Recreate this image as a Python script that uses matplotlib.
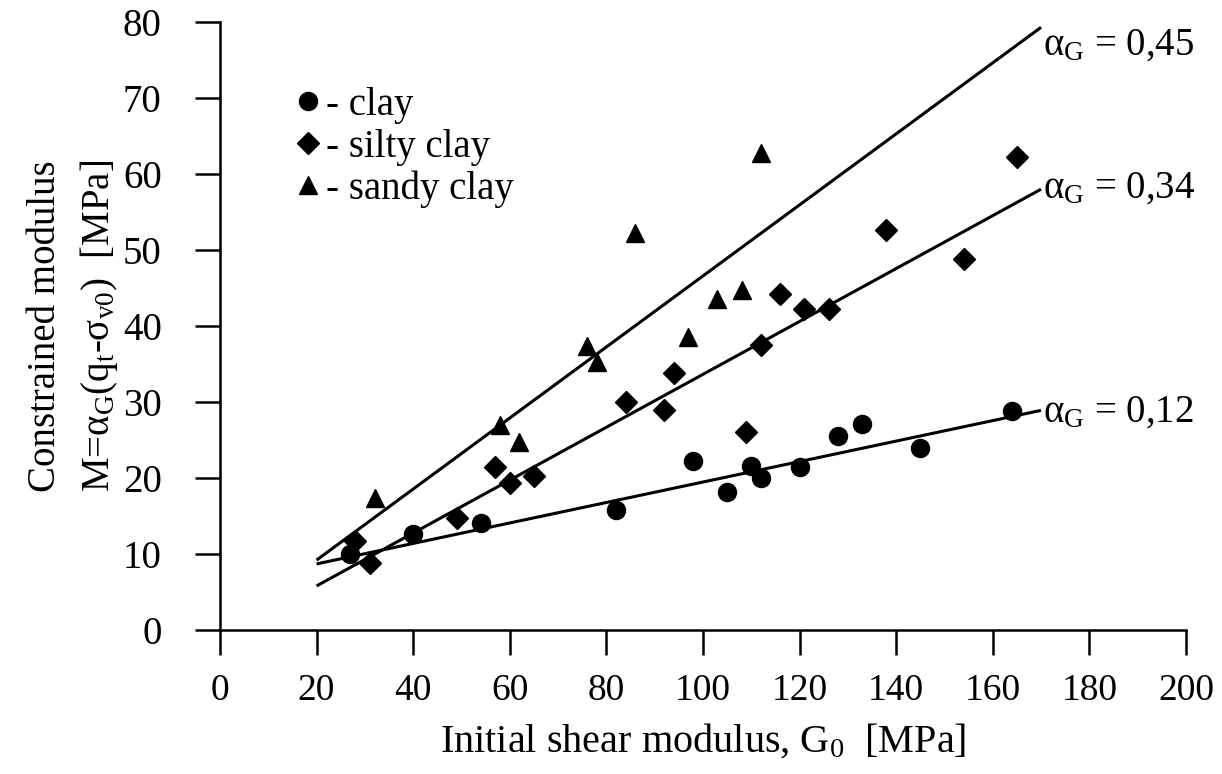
import numpy as np
import matplotlib
matplotlib.use("Agg")
import matplotlib.pyplot as plt

plt.rcParams['font.family'] = ['Liberation Serif', 'DejaVu Serif']
plt.rcParams['mathtext.fontset'] = 'custom'
plt.rcParams['mathtext.rm'] = 'Liberation Serif'
plt.rcParams['mathtext.it'] = 'Liberation Serif'

# data (G0 [MPa], M [MPa])
clay_g0 = [27, 40, 54, 82, 98, 105, 110, 112, 120, 128, 133, 145, 164]
clay_m = [10.0, 12.6, 14.1, 15.8, 22.3, 18.2, 21.6, 20.0, 21.5, 25.5, 27.1, 24.0, 28.8]

silty_g0 = [28, 31, 49, 57, 60, 65, 84, 92, 94, 109, 112, 116, 121, 126, 138, 154, 165]
silty_m = [11.7, 8.8, 14.8, 21.4, 19.3, 20.3, 30.0, 29.0, 33.8, 26.0, 37.5, 44.2, 42.3, 42.3, 52.6, 48.8, 62.2]

sandy_g0 = [32, 58, 62, 76, 78, 86, 97, 103, 108, 112]
sandy_m = [17.4, 27.0, 24.7, 37.4, 35.3, 52.2, 38.6, 43.6, 44.7, 62.7]

# fitted lines: end points
fit_labels = ['0,45', '0,34', '0,12']
fit_x = [20, 170]
fit_y = [[9.2, 79.3], [5.8, 58.0], [8.7, 28.9]]
label_y = [77.0, 58.2, 28.7]

fig = plt.figure(figsize=(12.22, 7.74), dpi=100)
ax = fig.add_axes([0.18, 0.186, 0.7905, 0.7856])

for ys in fit_y:
    ax.plot(fit_x, ys, color='black', lw=2.2, solid_capstyle='butt')

ax.plot(clay_g0, clay_m, 'o', color='black', ms=13, ls='none', label='- clay')
ax.plot(silty_g0, silty_m, 'D', color='black', ms=11, ls='none', label='- silty clay')
ax.plot(sandy_g0, sandy_m, '^', color='black', ms=13, ls='none', label='- sandy clay')

for lab, yy in zip(fit_labels, label_y):
    ax.text(170.5, yy, 'α$_{\\mathrm{G}}$ = ' + lab, fontsize=28, va='center', ha='left')

ax.set_xlim(0, 200)
ax.set_ylim(0, 80)
ax.set_xticks(np.arange(0, 201, 20))
ax.set_yticks(np.arange(0, 81, 10))
for s in ['top', 'right']:
    ax.spines[s].set_visible(False)
for s in ['left', 'bottom']:
    ax.spines[s].set_linewidth(1.8)
ax.tick_params(axis='both', direction='out', length=18, width=1.8, labelsize=27)
ax.tick_params(axis='x', pad=13)
ax.tick_params(axis='y', pad=24, labelsize=28)

ax.set_xlabel('Initial shear modulus, G$_0$  [MPa]', fontsize=29, labelpad=10)
ax.set_ylabel('Constrained modulus\n' + 'M=α$_{\\mathrm{G}}$(q$_{\\mathrm{t}}$-σ$_{\\mathrm{v0}}$)  [MPa]',
              fontsize=28, labelpad=2, linespacing=1.45)

leg = ax.legend(loc='upper left', bbox_to_anchor=(0.055, 0.925), frameon=False, fontsize=28,
                handletextpad=0.05, labelspacing=0.12, handlelength=0.8, borderpad=0)

fig.savefig('out.png', dpi=100)
